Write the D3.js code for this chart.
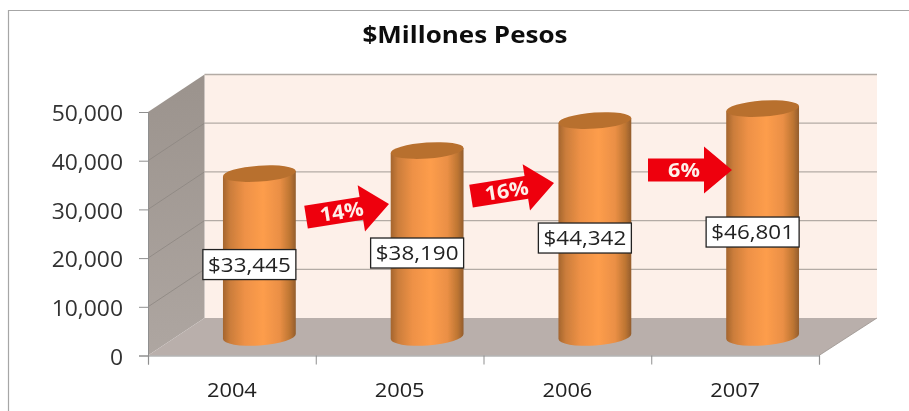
<!DOCTYPE html>
<html>
<head>
<meta charset="utf-8">
<script src="https://cdn.jsdelivr.net/npm/d3@7"></script>
<style>
  html, body { margin: 0; padding: 0; background: #fff; }
  svg { display: block; }
  text { font-family: "Open Sans", sans-serif; }
</style>
</head>
<body>
<div id="chart"></div>
<script>
// Data
var years = ["2004", "2005", "2006", "2007"];
var sales = [33445, 38190, 44342, 46801];
var growth = ["14%", "16%", "6%"];
var yTicks = [0, 10000, 20000, 30000, 40000, 50000];

var svgWidth = 909;
var svgHeight = 411;

// front face of the 3D box, and how far back the wall sits
var plot = { left: 148, right: 819, top: 112, bottom: 355.5 };
var wallDx = 56.5;
var wallDy = -37.5;

var yScale = d3.scaleLinear().domain([0, 50000]).range([plot.bottom, plot.top]);
var xScale = d3.scaleBand().domain(years).range([plot.left, plot.right]);
var xTickScale = d3.scaleLinear().domain([0, years.length]).range([plot.left, plot.right]);

// the original font runs wider than anything installed, so pull the text out to fit
function stretch(selection, k) {
  selection.each(function() {
    var len = this.getComputedTextLength();
    d3.select(this)
      .attr("textLength", len * k)
      .attr("lengthAdjust", "spacingAndGlyphs");
  });
}

var svg = d3.select("#chart")
  .append("svg")
  .attr("width", svgWidth)
  .attr("height", svgHeight);

var defs = svg.append("defs");

var cylGrad = defs.append("linearGradient").attr("id", "cylinder");
[[0, "#a4652e"], [0.1, "#cb7d3b"], [0.3, "#ee9146"], [0.55, "#fd9d4c"], [0.78, "#ea8f45"], [0.92, "#bd7532"], [1, "#935d2d"]]
  .forEach(function(s) {
    cylGrad.append("stop").attr("offset", s[0]).attr("stop-color", s[1]);
  });

var sideGrad = defs.append("linearGradient").attr("id", "sideWall")
  .attr("x1", 0).attr("y1", 0).attr("x2", 0).attr("y2", 1);
sideGrad.append("stop").attr("offset", 0).attr("stop-color", "#9b938d");
sideGrad.append("stop").attr("offset", 1).attr("stop-color", "#aea6a1");

defs.append("filter").attr("id", "soft")
  .append("feGaussianBlur").attr("stdDeviation", 0.35);

// Outer border, only top and left are visible in the picture
svg.append("path")
  .attr("d", `M8.5,${svgHeight} V10.5 H${svgWidth}`)
  .attr("fill", "none")
  .attr("stroke", "#a6a6a6")
  .attr("stroke-width", 1.2);

var chart = svg.append("g").attr("filter", "url(#soft)");

// Title
chart.append("text")
  .attr("x", 465)
  .attr("y", 43)
  .attr("text-anchor", "middle")
  .attr("font-size", 23)
  .attr("font-weight", 700)
  .attr("fill", "#111")
  .text("$Millones Pesos")
  .call(stretch, 1.13);

// Walls and floor
var backX0 = plot.left + wallDx;
var backX1 = plot.right + 58;

chart.append("rect")
  .attr("x", backX0)
  .attr("y", plot.top + wallDy)
  .attr("width", backX1 - backX0)
  .attr("height", plot.bottom - plot.top)
  .attr("fill", "#fdf0e9");

chart.append("path")
  .attr("d", d3.line()([
    [plot.left, plot.top], [backX0, plot.top + wallDy],
    [backX0, plot.bottom + wallDy], [plot.left, plot.bottom]
  ]) + "Z")
  .attr("fill", "url(#sideWall)");

chart.append("path")
  .attr("d", d3.line()([
    [plot.left, plot.bottom], [backX0, plot.bottom + wallDy],
    [backX1, plot.bottom + wallDy], [plot.right, plot.bottom]
  ]) + "Z")
  .attr("fill", "#b9afab");

// Gridlines on back wall and side wall
chart.selectAll(".grid")
  .data(yTicks.slice(1))
  .enter()
  .append("line")
  .attr("class", "grid")
  .attr("x1", backX0)
  .attr("x2", backX1)
  .attr("y1", d => yScale(d) + wallDy)
  .attr("y2", d => yScale(d) + wallDy)
  .attr("stroke", "#b3aba5")
  .attr("stroke-width", 1.3);

chart.selectAll(".sideGrid")
  .data(yTicks.slice(1, -1))
  .enter()
  .append("line")
  .attr("class", "sideGrid")
  .attr("x1", plot.left)
  .attr("x2", backX0)
  .attr("y1", d => yScale(d))
  .attr("y2", d => yScale(d) + wallDy)
  .attr("stroke", "#8d8781")
  .attr("stroke-width", 0.8);

// Right edge of floor
chart.append("line")
  .attr("x1", plot.right)
  .attr("y1", plot.bottom)
  .attr("x2", backX1)
  .attr("y2", plot.bottom + wallDy)
  .attr("stroke", "#9a938e")
  .attr("stroke-width", 0.8);

// Axes
var leftAxis = d3.axisLeft(yScale)
  .tickValues(yTicks)
  .tickSize(9)
  .tickPadding(16)
  .tickFormat(d3.format(","));

var yAxisG = chart.append("g")
  .attr("transform", `translate(${plot.left}, 0)`)
  .call(leftAxis);

yAxisG.select(".domain").attr("stroke", "#8f8f8f");
yAxisG.selectAll("line").attr("stroke", "#8f8f8f");
yAxisG.selectAll("text")
  .style("font-family", '"Open Sans", sans-serif')
  .style("font-size", "21px")
  .attr("dy", "0.42em")
  .attr("fill", "#333")
  .call(stretch, 1.09);

var tickAxis = d3.axisBottom(xTickScale)
  .tickValues(d3.range(years.length + 1))
  .tickSize(9)
  .tickFormat("");

var xTickG = chart.append("g")
  .attr("transform", `translate(0, ${plot.bottom})`)
  .call(tickAxis);

xTickG.select(".domain").attr("stroke", "#8f8f8f").attr("stroke-width", 1.2);
xTickG.selectAll("line").attr("stroke", "#8f8f8f");

var bottomAxis = d3.axisBottom(xScale).tickSize(0).tickPadding(27);

var xAxisG = chart.append("g")
  .attr("transform", `translate(0, ${plot.bottom})`)
  .call(bottomAxis);

xAxisG.select(".domain").remove();
xAxisG.selectAll("text")
  .style("font-family", '"Open Sans", sans-serif')
  .style("font-size", "20px")
  .attr("fill", "#222")
  .call(stretch, 1.09);

// Cylinders
var rx = 36.5;
var tilt = -4;
var cos = Math.cos(tilt * Math.PI / 180);
var sin = Math.sin(tilt * Math.PI / 180);
var cylDepthX = 27.5;
var cylDepthY = -19;

var rows = years.map(function(y, i) {
  var cx = xScale(y) + xScale.bandwidth() / 2 + cylDepthX;
  return {
    year: y,
    value: sales[i],
    cx: cx,
    top: yScale(sales[i]) + cylDepthY,
    base: yScale(0) + cylDepthY
  };
});

function cylinderPath(d) {
  var dx = rx * cos;
  var dy = rx * sin;
  return `M${d.cx - dx},${d.top - dy} L${d.cx - dx},${d.base - dy}` +
    ` A${rx},9 ${tilt} 0 0 ${d.cx + dx},${d.base + dy}` +
    ` L${d.cx + dx},${d.top + dy} Z`;
}

chart.selectAll(".cyl")
  .data(rows)
  .enter()
  .append("path")
  .attr("class", "cyl")
  .attr("d", cylinderPath)
  .attr("fill", "url(#cylinder)");

chart.selectAll(".cylTop")
  .data(rows)
  .enter()
  .append("ellipse")
  .attr("class", "cylTop")
  .attr("rx", rx)
  .attr("ry", 8)
  .attr("transform", d => `translate(${d.cx}, ${d.top}) rotate(${tilt})`)
  .attr("fill", "#b8702f");

// Value labels, sit a bit under the middle of each cylinder
var labelG = chart.selectAll(".valueLabel")
  .data(rows)
  .enter()
  .append("g")
  .attr("class", "valueLabel")
  .attr("transform", d => `translate(${d.cx + rx - 46.5}, ${(d.top + d.base) / 2 + 9.5})`);

labelG.append("rect")
  .attr("x", -46.5)
  .attr("y", -15)
  .attr("width", 93)
  .attr("height", 30)
  .attr("fill", "#fff")
  .attr("stroke", "#222")
  .attr("stroke-width", 1.3);

labelG.append("text")
  .attr("text-anchor", "middle")
  .attr("dy", "0.36em")
  .attr("font-size", 20)
  .attr("fill", "#222")
  .text(d => "$" + d3.format(",")(d.value))
  .call(stretch, 1.12);

// Growth arrows between the years
var arrowPlace = [
  { tipX: 389, tipY: 204, angle: -9 },
  { tipX: 554, tipY: 183, angle: -9 },
  { tipX: 732, tipY: 170, angle: 0 }
];

var arrowShape = d3.line()([
  [-84, -11.5], [-28, -11.5], [-28, -23.5], [0, 0], [-28, 23.5], [-28, 11.5], [-84, 11.5]
]) + "Z";

var arrowG = chart.selectAll(".arrow")
  .data(growth)
  .enter()
  .append("g")
  .attr("class", "arrow")
  .attr("transform", (d, i) => `translate(${arrowPlace[i].tipX}, ${arrowPlace[i].tipY}) rotate(${arrowPlace[i].angle})`);

arrowG.append("path")
  .attr("d", arrowShape)
  .attr("fill", "#ee0011");

arrowG.append("text")
  .attr("x", -48)
  .attr("dy", "0.36em")
  .attr("text-anchor", "middle")
  .attr("font-size", 20)
  .attr("font-weight", 700)
  .attr("fill", "#fdf0e9")
  .text(d => d)
  .call(stretch, 1.08);
</script>
</body>
</html>
